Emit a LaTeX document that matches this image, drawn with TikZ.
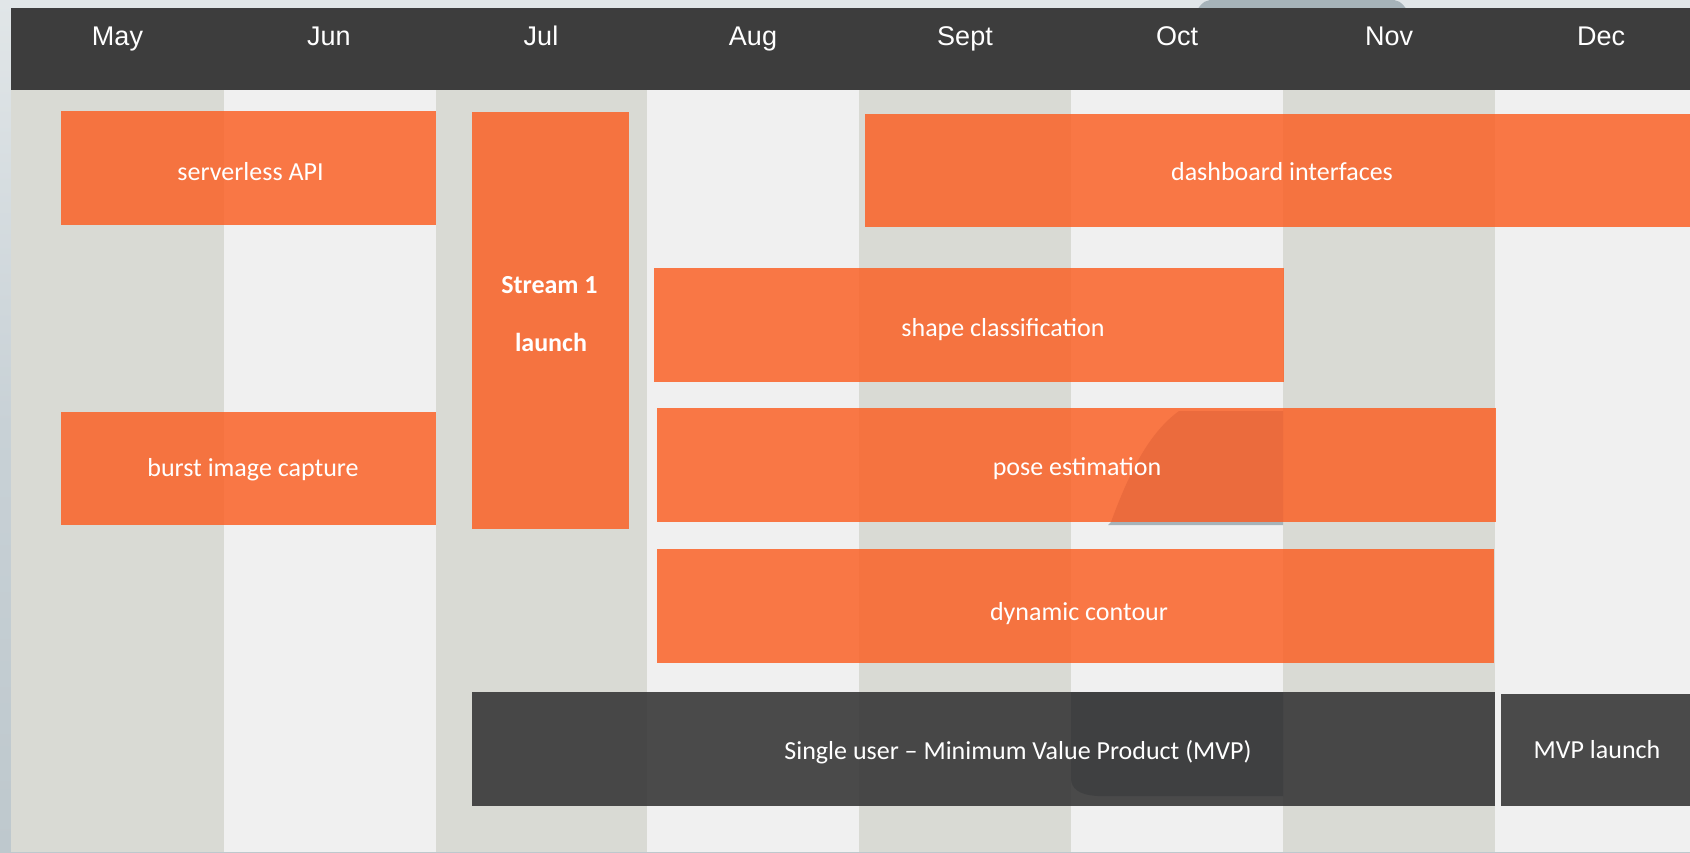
\documentclass[tikz,border=0pt]{standalone}
\usepackage{fontspec}
\setmainfont{Carlito}
\newfontfamily\monthfont{Liberation Sans}
\definecolor{hdr}{HTML}{3D3D3D}
\definecolor{colA}{HTML}{D9DAD4}
\definecolor{colB}{HTML}{F0F0F0}
\definecolor{taskor}{RGB}{251,95,35}
\definecolor{mvpgrey}{RGB}{56,56,56}
\definecolor{bgtop}{HTML}{E1E6E8}
\definecolor{bgmid}{HTML}{C8D1D6}
\definecolor{bgbot}{HTML}{BEC8CD}
\definecolor{blob}{HTML}{A6B3B9}
\definecolor{burn}{RGB}{158,43,18}
\definecolor{shadowblue}{RGB}{20,26,32}
\begin{document}
\begin{tikzpicture}[x=1pt,y=-1pt,
  bar/.style={rectangle, inner sep=0pt, outer sep=0pt, anchor=north west, draw=none},
  task/.style={bar, fill=taskor, fill opacity=0.83},
  milestone/.style={bar, fill=mvpgrey, fill opacity=0.9},
  column/.style={bar, minimum width=212.5pt, minimum height=762pt},
  lbl/.style={anchor=base, text=white, inner sep=0pt, font=\fontsize{26}{31}\selectfont},
  month/.style={anchor=base, text=white, inner sep=0pt, font=\monthfont\fontsize{27}{32}\selectfont}]
\useasboundingbox (0,0) rectangle (1690,852);

% slide backdrop
\shade[top color=bgtop, bottom color=bgbot, middle color=bgmid] (0,0) rectangle (1690,852);
\fill[blob] (1198,8.5) .. controls (1204,1) .. (1216,-1) -- (1388,-1) .. controls (1400,1) .. (1406,8.5) -- cycle;

% month columns
\node[column, fill=colA] (cMay)  at (11,90) {};
\node[column, fill=colB] (cJun)  at (223.5,90) {};
\node[column, fill=colA] (cJul)  at (435.5,90) {};
\node[column, fill=colB] (cAug)  at (647,90) {};
\node[column, fill=colA] (cSep)  at (859,90) {};
\node[column, fill=colB] (cOct)  at (1071,90) {};
\node[column, fill=colA] (cNov)  at (1283,90) {};
\node[column, fill=colB, minimum width=196pt] (cDec) at (1495,90) {};

% header band
\node[bar, fill=hdr, minimum width=1680pt, minimum height=82pt] (header) at (11,8) {};
\node[month] (mMay) at (117.5,45) {May};
\node[month] (mJun) at (329,45) {Jun};
\node[month] (mJul) at (541,45) {Jul};
\node[month] (mAug) at (753,45) {Aug};
\node[month] (mSep) at (965,45) {Sept};
\node[month] (mOct) at (1177,45) {Oct};
\node[month] (mNov) at (1389,45) {Nov};
\node[month] (mDec) at (1601,45) {Dec};

% work streams
\node[task, minimum width=375pt, minimum height=114pt] (api) at (61,111) {};
\node[task, minimum width=157pt, minimum height=417pt] (stream) at (472,112) {};
\node[task, minimum width=825pt, minimum height=113pt] (dash) at (865,114) {};
\node[task, minimum width=630pt, minimum height=114pt] (shape) at (654,268) {};
\node[task, minimum width=839pt, minimum height=114pt] (pose) at (657,408) {};
\node[task, minimum width=375pt, minimum height=113pt] (burst) at (61,412) {};
\node[task, minimum width=837pt, minimum height=114pt] (contour) at (657,549) {};
\node[milestone, minimum width=1023pt, minimum height=114pt] (mvp) at (472,692) {};
\node[milestone, minimum width=189pt, minimum height=112pt] (launch) at (1501,694) {};

% shading cast across the October column
\fill[burn, opacity=0.15] (1179,411) -- (1283,411) -- (1283,522) -- (1111,522)
  .. controls (1130,470) and (1150,432) .. (1179,411) -- cycle;
\fill[blob] (1111,522) -- (1283,522) -- (1283,525) -- (1108,525) -- cycle;
\fill[shadowblue, opacity=0.2] (1071,692) -- (1283,692) -- (1283,796) -- (1098,796)
  .. controls (1078,795) and (1071,788) .. (1071,778) -- cycle;

% labels
\node[lbl] (tApi) at (250.5,180) {serverless API};
\node[lbl, font=\fontsize{26}{31}\selectfont\bfseries] (tStream) at (549.5,293) {Stream 1};
\node[lbl, font=\fontsize{26}{31}\selectfont\bfseries] (tLaunch) at (551,351) {launch};
\node[lbl] (tDash) at (1282,180) {dashboard interfaces};
\node[lbl] (tShape) at (1003,336) {shape classification};
\node[lbl] (tPose) at (1077,475) {pose estimation};
\node[lbl] (tBurst) at (253,476) {burst image capture};
\node[lbl] (tContour) at (1079,620) {dynamic contour};
\node[lbl] (tMvp) at (1018,759) {Single user – Minimum Value Product (MVP)};
\node[lbl] (tLaunchMvp) at (1597,758) {MVP launch};
\end{tikzpicture}
\end{document}
